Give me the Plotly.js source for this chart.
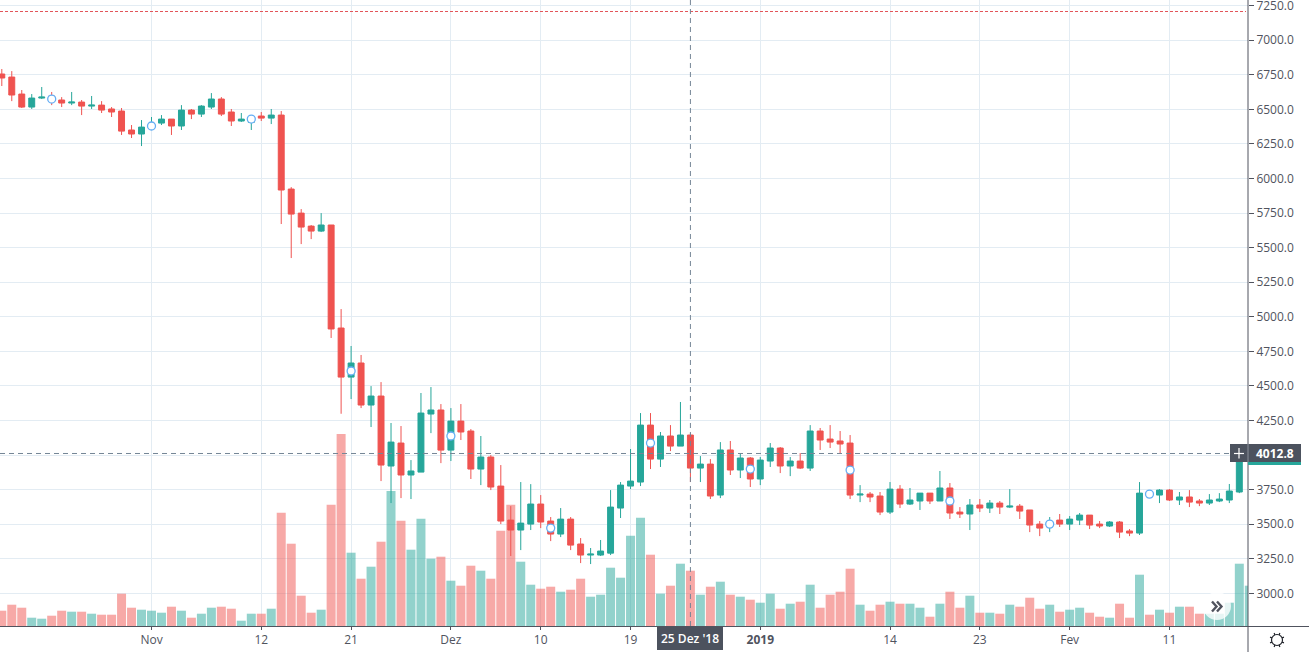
<!DOCTYPE html>
<html><head><meta charset="utf-8">
<script src="https://cdn.plot.ly/plotly-3.0.1.min.js"></script>
<style>html,body{margin:0;padding:0;background:#fff;overflow:hidden}#c{width:1309px;height:652px}</style>
</head><body><div id="c"></div>
<script>
const dates=[
"2018-10-17","2018-10-18","2018-10-19","2018-10-20","2018-10-21","2018-10-22","2018-10-23","2018-10-24","2018-10-25","2018-10-26","2018-10-27","2018-10-28","2018-10-29","2018-10-30","2018-10-31",
"2018-11-01","2018-11-02","2018-11-03","2018-11-04","2018-11-05","2018-11-06","2018-11-07","2018-11-08","2018-11-09","2018-11-10","2018-11-11","2018-11-12","2018-11-13","2018-11-14","2018-11-15","2018-11-16","2018-11-17","2018-11-18","2018-11-19","2018-11-20","2018-11-21","2018-11-22","2018-11-23","2018-11-24","2018-11-25","2018-11-26","2018-11-27","2018-11-28","2018-11-29","2018-11-30",
"2018-12-01","2018-12-02","2018-12-03","2018-12-04","2018-12-05","2018-12-06","2018-12-07","2018-12-08","2018-12-09","2018-12-10","2018-12-11","2018-12-12","2018-12-13","2018-12-14","2018-12-15","2018-12-16","2018-12-17","2018-12-18","2018-12-19","2018-12-20","2018-12-21","2018-12-22","2018-12-23","2018-12-24","2018-12-25","2018-12-26","2018-12-27","2018-12-28","2018-12-29","2018-12-30","2018-12-31",
"2019-01-01","2019-01-02","2019-01-03","2019-01-04","2019-01-05","2019-01-06","2019-01-07","2019-01-08","2019-01-09","2019-01-10","2019-01-11","2019-01-12","2019-01-13","2019-01-14","2019-01-15","2019-01-16","2019-01-17","2019-01-18","2019-01-19","2019-01-20","2019-01-21","2019-01-22","2019-01-23","2019-01-24","2019-01-25","2019-01-26","2019-01-27","2019-01-28","2019-01-29","2019-01-30","2019-01-31",
"2019-02-01","2019-02-02","2019-02-03","2019-02-04","2019-02-05","2019-02-06","2019-02-07","2019-02-08","2019-02-09","2019-02-10","2019-02-11","2019-02-12","2019-02-13","2019-02-14","2019-02-15","2019-02-16","2019-02-17","2019-02-18","2019-02-19"];
const open=[
6756,6734,6611,6517,6582,6597,6568,6546,6553,6524,6531,6503,6488,6351,6322,
6363,6401,6430,6380,6495,6466,6517,6575,6481,6416,6406,6452,6437,6459,5924,
5750,5656,5620,5664,4919,4564,4666,4362,4427,3921,4087,3856,3877,4297,4326,
4036,4246,4174,3899,3986,3776,3530,3458,3501,3646,3523,3429,3537,3357,3277,
3277,3291,3617,3776,3805,4217,3971,4138,4065,4145,3906,3935,3711,4037,3892,
3979,3827,3957,4051,3921,3957,3906,4174,4116,4102,4087,3711,3718,3704,3588,
3754,3646,3668,3725,3668,3762,3588,3574,3639,3617,3653,3624,3631,3603,3501,
3482,3530,3501,3530,3566,3501,3487,3516,3451,3436,3730,3711,3747,3675,3697,
3668,3653,3668,3675,3733,3995];
const high=[
6792,6777,6640,6611,6662,6626,6589,6626,6568,6597,6560,6517,6510,6387,6423,
6445,6459,6430,6531,6503,6531,6618,6589,6503,6474,6452,6481,6503,6488,5938,
5779,5664,5750,5664,5056,4789,4724,4499,4528,4232,4210,3964,4449,4492,4369,
4340,4369,4188,4138,4000,3928,3631,3805,3790,3711,3552,3617,3552,3400,3328,
3386,3747,3805,4044,4304,4304,4167,4217,4384,4159,3993,3971,4094,4102,4008,
3986,3986,4087,4058,3986,4015,4217,4196,4217,4174,4145,3783,3733,3733,3805,
3783,3762,3725,3725,3885,3798,3624,3682,3682,3675,3668,3754,3646,3603,3523,
3552,3574,3559,3581,3566,3523,3523,3523,3465,3805,3747,3754,3754,3733,3747,
3682,3718,3725,3791,4030,4010];
const low=[
6669,6560,6510,6503,6575,6531,6517,6531,6459,6503,6474,6445,6315,6293,6235,
6351,6387,6315,6351,6430,6445,6503,6452,6380,6409,6351,6416,6394,5671,5425,
5526,5562,5613,4847,4299,4405,4340,4203,3812,3653,3689,3682,3877,4159,3942,
3957,4109,3827,3783,3747,3501,3270,3313,3458,3472,3378,3407,3313,3219,3212,
3270,3277,3545,3754,3776,3899,3914,4029,4065,3805,3805,3682,3689,3856,3834,
3769,3783,3914,3870,3848,3899,3885,4037,4051,4008,3682,3660,3660,3566,3574,
3617,3639,3603,3646,3668,3538,3545,3458,3588,3581,3574,3617,3538,3443,3414,
3443,3480,3458,3494,3465,3472,3480,3400,3414,3422,3699,3653,3668,3639,3624,
3631,3639,3660,3653,3725,3990];
const close=[
6727,6604,6517,6582,6589,6560,6546,6553,6524,6531,6495,6481,6343,6322,6372,
6399,6430,6380,6495,6466,6524,6575,6466,6416,6430,6442,6437,6459,5917,5743,
5649,5620,5664,4912,4564,4666,4362,4427,3928,4094,3856,3885,4304,4326,4036,
4246,4167,3899,3986,3769,3523,3458,3508,3646,3516,3429,3537,3349,3277,3284,
3306,3624,3783,3812,4217,3971,4138,4065,4145,3906,3935,3704,4037,3892,3979,
3827,3964,4051,3921,3957,3906,4174,4109,4094,4080,3711,3718,3697,3588,3754,
3646,3675,3725,3668,3762,3581,3574,3639,3617,3653,3624,3631,3595,3494,3472,
3518,3501,3537,3566,3494,3487,3516,3443,3436,3725,3704,3747,3675,3697,3660,
3653,3675,3682,3740,3995,4005];
const volume=[
15.3,21.3,18.3,8.3,7.3,10.3,15.3,14.3,14.3,12.3,11.3,11.3,32.3,18.3,16.3,
15.3,13.3,19.3,15.3,8.3,12.3,18.3,19.3,17.3,5.3,12.3,12.3,17.3,113.3,82.3,
30.3,13.3,16.3,121.3,192,73.3,47.3,59.3,84.3,135,105.3,76.3,107.3,67.3,69.3,
45.3,40.3,60.3,55.3,47.3,95.3,121.3,64.3,41.3,37.3,39.3,34.3,36.3,47.3,29.3,
31.3,58.3,48.3,90.3,108.3,71.3,32.3,40.3,62.3,55.3,31.3,39.3,44.3,31.3,29.3,
26.3,23.3,32.3,17.3,22.3,24.3,41.3,18.3,31.3,34.3,57.3,21.3,15.3,21.3,24.3,
22.3,22.3,18.3,9.3,22.3,34.3,18.3,30.3,13.3,13.3,12.3,21.3,19.3,28.3,17.3,
21.3,14.3,16.3,18.3,13.3,9.3,8.3,22.3,8.3,51.3,11.3,16.3,13.3,19.3,19.3,
12.3,12.3,12.3,23.3,62.3,40.3];
const markerDates=["2018-10-22","2018-11-01","2018-11-11","2018-11-21","2018-12-01","2018-12-11","2018-12-21","2018-12-31","2019-01-10","2019-01-20","2019-01-30","2019-02-09"];
const markerPrices=[6575,6380,6430,4608,4138,3472,4087,3899,3892,3668,3501,3718];
const xTickDates=["2018-11-01","2018-11-12","2018-11-21","2018-12-01","2018-12-10","2018-12-19","2019-01-01","2019-01-14","2019-01-23","2019-02-01","2019-02-11"];
const xTickLabels=["Nov","12","21","Dez","10","19","<b>2019</b>","14","23","Fev","11"];
const alertPrice=7208, crossPrice=4011.6, crossDate="2018-12-25";
const crossPriceLabel="4012.8", crossDateLabel="25 Dez '18";

const UP="#26a69a",DOWN="#ef5350",TXT="#50535e",DARK="#4c525e",GRID="#e3ecf3";
const FONT='"Open Sans", sans-serif';
const W=1248,H=626;
const px=x=>x/W, py=y=>(H-y)/H;
const volColors=close.map((c,i)=>c>=open[i]?"rgba(38,166,154,0.5)":"rgba(239,83,80,0.5)");

const traces=[
 {type:"bar",x:dates,y:volume,yaxis:"y2",marker:{color:volColors,line:{width:0}},hoverinfo:"skip",showlegend:false},
 {type:"candlestick",x:dates,open,high,low,close,showlegend:false,whiskerwidth:0,
  increasing:{line:{color:UP,width:1},fillcolor:UP},decreasing:{line:{color:DOWN,width:1},fillcolor:DOWN}},
 {type:"scatter",mode:"markers",x:markerDates,y:markerPrices,showlegend:false,
  marker:{size:8,color:"#ffffff",line:{color:"#64aef5",width:1.3}}}
];

const rect=(x0,y0,x1,y1,color)=>({type:"rect",xref:"paper",yref:"paper",x0:px(x0),x1:px(x1),y0:py(y0),y1:py(y1),fillcolor:color,line:{width:0},layer:"above"});
const seg=(x0,y0,x1,y1,color,w)=>({type:"line",xref:"paper",yref:"paper",x0:px(x0),x1:px(x1),y0:py(y0),y1:py(y1),line:{color,width:w||1},layer:"above"});
const shapes=[
 {type:"line",xref:"paper",yref:"y",x0:0,x1:px(1246),y0:alertPrice,y1:alertPrice,line:{color:"#e2555a",width:1,dash:"3px,2px"},layer:"above"},
 {type:"line",xref:"x",yref:"paper",x0:crossDate,x1:crossDate,y0:0,y1:1,line:{color:"#758696",width:1,dash:"5px,4px"},layer:"above"},
 {type:"line",xref:"paper",yref:"y",x0:0,x1:1,y0:crossPrice,y1:crossPrice,line:{color:"#758696",width:1,dash:"5px,4px"},layer:"above"},
 seg(1248,0,1248,652,TXT),
 seg(0,626.5,1309,626.5,TXT),
 rect(1248,446,1301,465,UP),
 rect(1248,444,1301,462,DARK),
 rect(1230,444,1248,462,DARK),
 seg(1248,444,1248,462,"#8a8f99"),
 seg(1234,453.5,1244,453.5,"#ffffff",1.2),
 seg(1239,448,1239,458.5,"#ffffff",1.2),
 rect(657,627,723,650,DARK),
 {type:"circle",xref:"paper",yref:"paper",x0:px(1203),x1:px(1231),y0:py(592),y1:py(620),fillcolor:"rgba(255,255,255,0.78)",line:{width:0},layer:"above"},
 {type:"path",xref:"paper",yref:"paper",layer:"above",line:{color:"#50535e",width:2.4},
  path:`M ${px(1212)} ${py(601.5)} L ${px(1216.5)} ${py(606.5)} L ${px(1212)} ${py(611.5)} M ${px(1217)} ${py(601.5)} L ${px(1221.5)} ${py(606.5)} L ${px(1217)} ${py(611.5)}`},
 {type:"circle",xref:"paper",yref:"paper",x0:px(1271.5),x1:px(1282.5),y0:py(634.5),y1:py(645.5),fillcolor:"#fff",line:{color:"#1f2229",width:1.2},layer:"above"}
];
for(let a=0;a<8;a++){const t=a*Math.PI/4+Math.PI/8;
 shapes.push(seg(1277+5.5*Math.cos(t),640+5.5*Math.sin(t),1277+7.5*Math.cos(t),640+7.5*Math.sin(t),"#1f2229",1.2));}

const ann=(x,y,text,size,color,weight)=>({xref:"paper",yref:"paper",x:px(x),y:py(y),text,showarrow:false,xanchor:"center",yanchor:"middle",
 font:{family:FONT,size,color,weight:weight||400}});
const layout={
 width:1309,height:652,margin:{l:0,r:61,t:0,b:26,pad:0},paper_bgcolor:"#fff",plot_bgcolor:"#fff",
 showlegend:false,bargap:0.1,boxgap:0.15,boxgroupgap:0.3,hovermode:false,
 font:{family:FONT,size:12,color:TXT},
 xaxis:{type:"date",range:["2018-10-16 19:41","2019-02-18 20:53"],rangeslider:{visible:false},
  tickmode:"array",tickvals:xTickDates,ticktext:xTickLabels,ticks:"outside",ticklen:3,tickcolor:TXT,
  showgrid:true,gridcolor:GRID,gridwidth:1,zeroline:false,showline:false,tickangle:0,
  tickfont:{family:FONT,size:12,color:TXT}},
 yaxis:{range:[2764,7291.2],side:"right",tick0:3000,dtick:250,tickformat:".1f",ticks:"outside",ticklen:5,tickcolor:TXT,
  ticklabeloverflow:"allow",showgrid:true,gridcolor:GRID,gridwidth:1,zeroline:false,showline:false,
  tickfont:{family:FONT,size:12,color:TXT}},
 yaxis2:{overlaying:"y",range:[0,626],visible:false,showgrid:false,zeroline:false},
 shapes,
 annotations:[
  ann(1275,453,crossPriceLabel,12,"#ffffff",700),
  ann(690,638.5,crossDateLabel,12,"#ffffff",600)
 ]
};
Plotly.newPlot("c",traces,layout,{displayModeBar:false,staticPlot:true});
</script></body></html>
